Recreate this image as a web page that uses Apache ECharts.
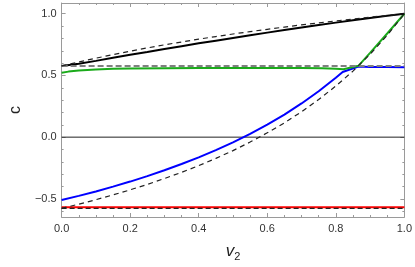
<!DOCTYPE html>
<html><head><meta charset="utf-8">
<script src="https://cdn.jsdelivr.net/npm/echarts@6/dist/echarts.min.js"></script>
<style>html,body{margin:0;padding:0;background:#fff}#c{width:415px;height:267px}</style>
</head><body><div id="c"></div>
<script>
// ---- data ----
const xTicks = [0, 0.2, 0.4, 0.6, 0.8, 1.0];
const yTicks = [-0.5, 0, 0.5, 1.0];
const yMinorTicks = [-0.6, -0.4, -0.3, -0.2, -0.1, 0.1, 0.2, 0.3, 0.4, 0.6, 0.7, 0.8, 0.9];

const blackSolid = [[0,0.577],[0.05,0.594],[0.1,0.618],[0.15,0.643],[0.2,0.667],[0.25,0.690],[0.3,0.714],[0.35,0.737],[0.4,0.760],[0.45,0.782],[0.5,0.804],[0.55,0.826],[0.6,0.847],[0.65,0.868],[0.7,0.889],[0.75,0.909],[0.8,0.928],[0.85,0.947],[0.9,0.965],[0.95,0.983],[1.0,1.0]];
const blackDashedUpper = [[0,0.577],[0.05,0.609],[0.1,0.640],[0.15,0.669],[0.2,0.697],[0.25,0.723],[0.3,0.748],[0.35,0.771],[0.4,0.794],[0.45,0.815],[0.5,0.836],[0.55,0.855],[0.6,0.874],[0.65,0.892],[0.7,0.910],[0.75,0.926],[0.8,0.942],[0.85,0.957],[0.9,0.972],[0.95,0.986],[1.0,1.0]];
const blackDashedLower = [[0,-0.577],[0.05,-0.543],[0.1,-0.507],[0.15,-0.468],[0.2,-0.427],[0.25,-0.383],[0.3,-0.335],[0.35,-0.285],[0.4,-0.231],[0.45,-0.172],[0.5,-0.109],[0.55,-0.040],[0.6,0.035],[0.65,0.116],[0.7,0.206],[0.75,0.305],[0.8,0.414],[0.85,0.535],[0.9,0.672],[0.95,0.825],[1.0,1.0]];
const grayDashed = [[0,0.577],[1,0.577]];
const blackDashedBottom = [[0,-0.577],[1,-0.577]];
const blueSolid = [[0,-0.510],[0.05,-0.476],[0.1,-0.440],[0.15,-0.401],[0.2,-0.360],[0.25,-0.316],[0.3,-0.268],[0.35,-0.218],[0.4,-0.164],[0.45,-0.105],[0.5,-0.042],[0.55,0.027],[0.6,0.102],[0.65,0.183],[0.7,0.273],[0.75,0.372],[0.8,0.481],[0.82,0.528],[0.845,0.552],[0.866,0.573],[0.9,0.569],[0.95,0.568],[1.0,0.567]];
const greenSolid = [[0,0.522],[0.02,0.531],[0.05,0.540],[0.1,0.549],[0.15,0.554],[0.2,0.557],[0.3,0.559],[0.4,0.560],[0.5,0.561],[0.6,0.561],[0.7,0.561],[0.76,0.559],[0.8,0.555],[0.822,0.551],[0.866,0.578],[0.9,0.683],[0.95,0.840],[1.0,1.0]];
const redSolid = [[0,-0.567],[0.5,-0.567],[1.0,-0.567]];
const zeroLine = [[0,0],[1,0]];

const X_MIN = 0, X_MAX = 1, Y_MIN = -0.647, Y_MAX = 1.087;

const frameColor = '#9a9a9a';
const labelColor = '#333';
const font = 'Liberation Sans, Arial, sans-serif';

function fmt(v){ return v.toFixed(1).replace('-', '\u2212'); }

const chart = echarts.init(document.getElementById('c'), null, {renderer:'canvas'});

function xAx(pos, showLabel, name){
  return {
    type:'value', position:pos, min:X_MIN, max:X_MAX, interval:0.2,
    axisLine:{show:true, onZero:false, lineStyle:{color:frameColor, width:1}},
    axisTick:{show:true, inside:true, length:4, lineStyle:{color:frameColor}},
    minorTick:{show:true, splitNumber:4, length:2, lineStyle:{color:frameColor}},
    splitLine:{show:false}, minorSplitLine:{show:false},
    axisLabel:{show:showLabel, color:labelColor, fontFamily:font, fontSize:11, margin:6, formatter:fmt},
    name: name || '', nameLocation:'middle', nameGap:24,
    nameTextStyle:{rich:{v:{fontFamily:font, fontStyle:'italic', fontSize:17, color:'#222'}, s:{fontFamily:font, fontSize:11, color:'#222', padding:[10,0,0,0]}}}
  };
}
function yAx(pos, showLabel, major, name){
  return {
    type:'value', position:pos, min:Y_MIN, max:Y_MAX,
    axisLine:{show:major, onZero:false, lineStyle:{color:frameColor, width:1}},
    axisTick:{show:true, inside:true, length: major?4:2, customValues: major?yTicks:yMinorTicks, lineStyle:{color:frameColor}},
    splitLine:{show:false},
    axisLabel:{show:showLabel, customValues:yTicks, color:labelColor, fontFamily:font, fontSize:11, margin:5, formatter:fmt},
    name: name || '', nameLocation:'middle', nameGap:37,
    nameTextStyle:{fontFamily:font, fontSize:16, color:'#222'}
  };
}

const series = [];
function line(data, color, width, type, z){
  series.push({type:'line', data:data, xAxisIndex:0, yAxisIndex:0, symbol:'none', smooth:false, z:z,
    lineStyle:{color:color, width:width, type:type}, silent:true, animation:false});
}
line(zeroLine, '#222', 1, 'solid', 1);
line(redSolid, '#ff0000', 2, 'solid', 2);
line(blackDashedBottom, '#222', 1.2, [5,3], 3);
line(blueSolid, '#0000ff', 2, 'solid', 2);
line(greenSolid, '#1aaa1a', 2, 'solid', 2);
line(blackSolid, '#000', 2, 'solid', 2);
line(grayDashed, '#808080', 2, [6,3], 3);
line(blackDashedUpper, '#222', 1.2, [5,4], 3);
line(blackDashedLower, '#222', 1.2, [5,4], 3);

chart.setOption({
  animation:false,
  grid:{left:51.5, right:8, top:3, bottom:44.3, containLabel:false},
  xAxis:[ xAx('bottom', true, '{v|v}{s|2}'), xAx('top', false) ],
  yAxis:[ yAx('left', true, true, 'c'), yAx('left', false, false), yAx('right', false, true), yAx('right', false, false) ],
  series: series
});
</script></body></html>
